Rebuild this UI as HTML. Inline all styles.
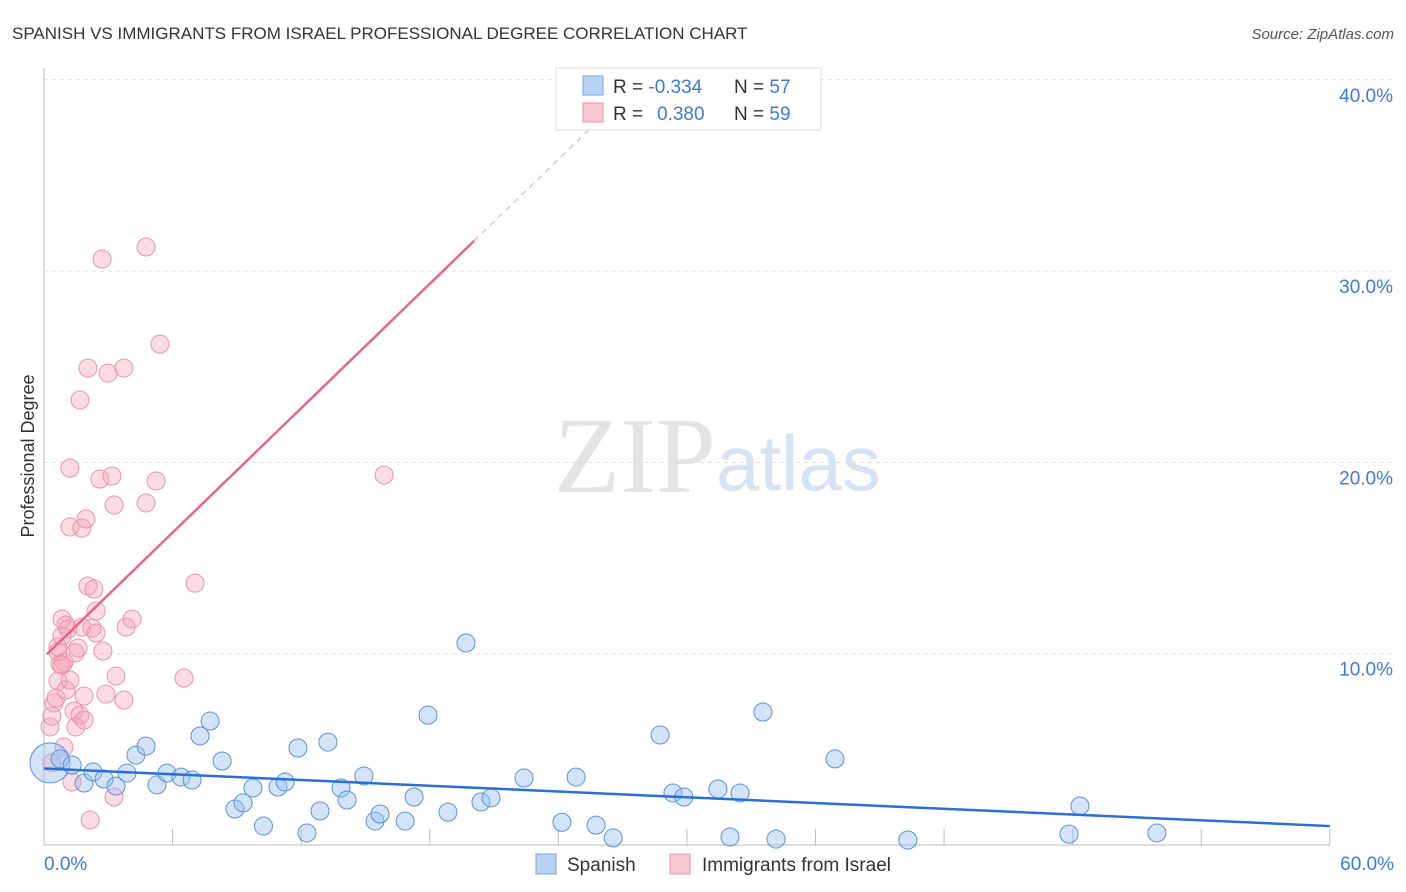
<!DOCTYPE html>
<html><head><meta charset="utf-8"><style>
body{margin:0;background:#fff;font-family:"Liberation Sans",sans-serif}
svg{display:block}
</style></head><body>
<svg id="chart" width="1406" height="892">
<text x="12" y="39" font-size="17" fill="#333">SPANISH VS IMMIGRANTS FROM ISRAEL PROFESSIONAL DEGREE CORRELATION CHART</text>
<text x="1394" y="39" font-size="15" fill="#555" font-style="italic" text-anchor="end">Source: ZipAtlas.com</text>
<text x="716" y="492" font-size="108" fill="#e4e4e4" text-anchor="end" font-family="Liberation Serif,serif">ZIP</text>
<text x="716" y="490" font-size="78" fill="#d6e3f3">atlas</text>
<text x="34" y="456" font-size="18" fill="#333" text-anchor="middle" transform="rotate(-90 34 456)">Professional Degree</text>
<g id="grid"></g><g id="pts"></g><g id="lines"></g>
<g>
<rect x="556" y="68" width="265" height="62" fill="#fff" stroke="#ddd"/>
<rect x="583" y="76" width="20" height="19" fill="#b8d3f3" stroke="#7aa6de"/>
<rect x="583" y="103" width="20" height="19" fill="#f9c6d4" stroke="#eb93ad"/>
<text x="613" y="93" font-size="19" fill="#333">R = <tspan fill="#3d7bd9">-0.334</tspan><tspan x="734">N = </tspan><tspan fill="#3d7bd9">57</tspan></text>
<text x="613" y="120" font-size="19" fill="#333">R = <tspan x="657" fill="#3d7bd9">0.380</tspan><tspan x="734">N = </tspan><tspan fill="#3d7bd9">59</tspan></text>
</g>
<g>
<rect x="536" y="854" width="20" height="20" fill="#b8d3f3" stroke="#7aa6de"/>
<text x="567" y="871" font-size="19" fill="#333">Spanish</text>
<rect x="670" y="854" width="20" height="20" fill="#f9c6d4" stroke="#eb93ad"/>
<text x="702" y="871" font-size="19" fill="#333">Immigrants from Israel</text>
</g>
</svg>
<script>
const xTicks=[0,6,12,18,24,30,36,42,48,54,60];
const yTicks=[10,20,30,40];
const blueX=[0.28,0.75,1.31,1.87,2.29,2.8,3.36,3.87,4.29,4.76,5.27,5.74,6.39,6.91,7.28,7.75,8.31,8.91,9.29,9.75,10.24,10.92,11.25,11.85,12.27,12.88,13.25,13.86,14.14,14.93,15.45,15.68,16.85,17.27,17.92,18.85,19.69,20.39,20.86,22.4,24.17,24.83,25.76,26.56,28.75,29.35,29.86,31.45,32.01,32.48,33.55,34.16,36.91,40.31,47.83,48.34,51.93];
const blueY=[4.29,4.5,4.18,3.24,3.82,3.45,3.08,3.76,4.7,5.17,3.14,3.76,3.55,3.4,5.7,6.48,4.39,1.88,2.2,2.98,0.99,3.03,3.29,5.07,0.63,1.78,5.38,2.98,2.35,3.61,1.25,1.62,1.25,2.51,6.79,1.72,10.56,2.25,2.46,3.5,1.19,3.55,1.04,0.37,5.75,2.72,2.51,2.93,0.42,2.72,6.95,0.31,4.5,0.26,0.57,2.04,0.63];
const pinkX=[0.28,0.37,0.47,0.56,0.37,0.65,0.75,0.84,0.65,0.84,0.93,1.03,1.12,1.21,1.21,1.21,1.31,1.4,1.45,1.49,1.59,1.68,1.68,1.77,1.77,1.87,1.87,1.96,2.05,2.05,2.15,2.24,2.33,2.43,2.43,2.61,2.71,2.75,2.89,2.99,3.17,3.27,3.27,3.36,3.73,3.73,3.83,4.11,4.76,4.76,5.23,5.41,6.53,7.05,15.87,0.84,0.93,0.65,1.03];
const pinkY=[6.17,6.74,7.42,7.68,4.29,8.57,9.46,10.92,10.09,11.81,9.56,8.1,11.29,8.62,16.62,19.7,3.29,7.0,10.04,6.17,10.3,6.79,23.26,16.57,11.39,6.53,7.79,17.04,13.54,24.93,1.31,11.34,13.38,11.08,12.23,19.13,30.63,10.14,7.89,24.67,19.29,17.77,2.51,8.83,24.93,7.58,11.39,11.81,17.88,31.26,19.03,26.18,8.73,13.69,19.34,9.41,5.12,10.35,11.5];
const X=v=>44+v*21.43, Y=v=>845-v*19.13;
const NS='http://www.w3.org/2000/svg';
function mk(tag,attrs,parent){const e=document.createElementNS(NS,tag);for(const k in attrs)e.setAttribute(k,attrs[k]);parent.appendChild(e);return e;}
const svg=document.getElementById('chart'),grid=document.getElementById('grid'),pts=document.getElementById('pts'),lines=document.getElementById('lines');
let ax=mk('line',{x1:44,y1:68,x2:44,y2:845,stroke:'#bbb'},grid);


let bx=mk('line',{x1:44,y1:845,x2:1330,y2:845,stroke:'#bbb'},grid);


yTicks.forEach(t=>{const g=mk('line',{x1:44,y1:Y(t),x2:1394,y2:Y(t),stroke:'#ddd','stroke-dasharray':'4,4'},grid);


const l=mk('text',{x:1393,y:Y(t)+22,'font-size':19,fill:'#3d7bd9','text-anchor':'end'},grid);l.textContent=t.toFixed(1)+'%';

});
xTicks.forEach((t,i)=>{if(i>0){const k=mk('line',{x1:X(t),y1:829,x2:X(t),y2:845,stroke:'#bbb'},grid);

}});
[[0,'0.0%','start',44],[60,'60.0%','end',1394]].forEach(a=>{const l=mk('text',{x:a[3],y:870,'font-size':19,fill:'#3d7bd9','text-anchor':a[2]},grid);l.textContent=a[1];

});
pinkX.forEach((v,i)=>{const c=mk('circle',{cx:X(v),cy:Y(pinkY[i]),r:9,fill:'rgba(245,160,185,0.38)',stroke:'#eb93ad','stroke-width':1},pts);

});
blueX.forEach((v,i)=>{const c=mk('circle',{cx:X(v),cy:Y(blueY[i]),r:i==0?20:9,fill:'rgba(150,190,240,0.42)',stroke:'#5b92d8','stroke-width':1},pts);

});
let bl=mk('line',{x1:X(0),y1:Y(4.0),x2:X(60),y2:Y(0.99),stroke:'#2a6fd6','stroke-width':2.5},lines);


let pl=mk('line',{x1:X(0.14),y1:Y(9.98),x2:X(20.07),y2:Y(31.58),stroke:'#e8648f','stroke-width':2.5},lines);


let pd=mk('line',{x1:X(20.07),y1:Y(31.58),x2:X(26),y2:Y(38),stroke:'#e8a0b8','stroke-width':1,'stroke-dasharray':'6,5'},lines);


</script>
</body></html>
